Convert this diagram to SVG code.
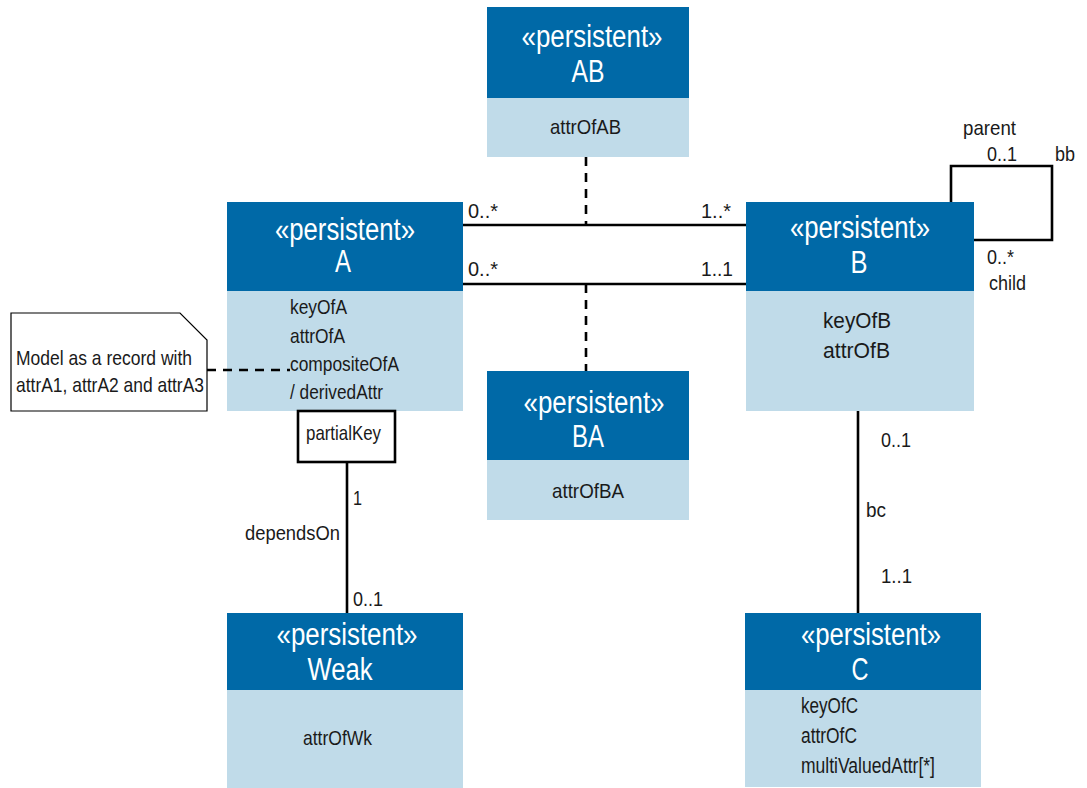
<svg xmlns="http://www.w3.org/2000/svg" width="1087" height="788" viewBox="0 0 1087 788">
<style>
text{font-family:"Liberation Sans",Arial,sans-serif;}
.hd{fill:#0069a7;}
.bd{fill:#c0dbe9;}
.st{fill:#ffffff;font-size:31px;text-anchor:middle;}
.at{fill:#1a1a1a;font-size:21px;}
.atB{fill:#1a1a1a;font-size:22px;}
.lb{fill:#1a1a1a;font-size:21px;}
.ln{fill:none;stroke:#000;stroke-width:2.6;}
.ds{fill:none;stroke:#000;stroke-width:2.6;stroke-dasharray:9,7;}
</style>
<rect width="1087" height="788" fill="#ffffff"/>
<g id="AB">
<rect class="hd" x="487" y="7" width="202" height="91"/>
<rect class="bd" x="487" y="98" width="202" height="59"/>
<text class="st" x="592" y="47" textLength="141" lengthAdjust="spacingAndGlyphs">«persistent»</text>
<text class="st" x="588" y="82" textLength="33" lengthAdjust="spacingAndGlyphs">AB</text>
<text class="at" x="550" y="134" textLength="71" lengthAdjust="spacingAndGlyphs">attrOfAB</text>
</g>
<g id="A">
<rect class="hd" x="227" y="202" width="236" height="89"/>
<rect class="bd" x="227" y="291" width="236" height="120"/>
<text class="st" x="345" y="240" textLength="140" lengthAdjust="spacingAndGlyphs">«persistent»</text>
<text class="st" x="343" y="272" textLength="16" lengthAdjust="spacingAndGlyphs">A</text>
<text class="at" x="290" y="314" textLength="57" lengthAdjust="spacingAndGlyphs">keyOfA</text>
<text class="at" x="290" y="343" textLength="55" lengthAdjust="spacingAndGlyphs">attrOfA</text>
<text class="at" x="290" y="371" textLength="109" lengthAdjust="spacingAndGlyphs">compositeOfA</text>
<text class="at" x="290" y="399" textLength="93" lengthAdjust="spacingAndGlyphs">/ derivedAttr</text>
</g>
<g id="partialKey">
<rect x="298" y="411" width="97" height="51" fill="#ffffff" stroke="#000" stroke-width="2.6"/>
<text class="at" x="306" y="440" textLength="75" lengthAdjust="spacingAndGlyphs">partialKey</text>
</g>
<g id="B">
<rect class="hd" x="746" y="202" width="228" height="89"/>
<rect class="bd" x="746" y="291" width="228" height="120"/>
<text class="st" x="860" y="238" textLength="140" lengthAdjust="spacingAndGlyphs">«persistent»</text>
<text class="st" x="859" y="273" textLength="17" lengthAdjust="spacingAndGlyphs">B</text>
<text class="atB" x="823" y="328" textLength="68" lengthAdjust="spacingAndGlyphs">keyOfB</text>
<text class="atB" x="823" y="358" textLength="67" lengthAdjust="spacingAndGlyphs">attrOfB</text>
</g>
<g id="BA">
<rect class="hd" x="487" y="371" width="202" height="89"/>
<rect class="bd" x="487" y="460" width="202" height="60"/>
<text class="st" x="594" y="413" textLength="141" lengthAdjust="spacingAndGlyphs">«persistent»</text>
<text class="st" x="588" y="447" textLength="32" lengthAdjust="spacingAndGlyphs">BA</text>
<text class="at" x="552" y="498" textLength="72" lengthAdjust="spacingAndGlyphs">attrOfBA</text>
</g>
<g id="Weak">
<rect class="hd" x="227" y="613" width="236" height="77"/>
<rect class="bd" x="227" y="690" width="236" height="98"/>
<text class="st" x="347" y="645" textLength="141" lengthAdjust="spacingAndGlyphs">«persistent»</text>
<text class="st" x="340" y="680" textLength="65" lengthAdjust="spacingAndGlyphs">Weak</text>
<text class="at" x="303" y="745" textLength="69" lengthAdjust="spacingAndGlyphs">attrOfWk</text>
</g>
<g id="C">
<rect class="hd" x="745" y="613" width="236" height="77"/>
<rect class="bd" x="745" y="690" width="236" height="97"/>
<text class="st" x="871" y="645" textLength="140" lengthAdjust="spacingAndGlyphs">«persistent»</text>
<text class="st" x="860" y="680" textLength="17" lengthAdjust="spacingAndGlyphs">C</text>
<text class="atB" x="801" y="713" textLength="57" lengthAdjust="spacingAndGlyphs">keyOfC</text>
<text class="atB" x="801" y="743" textLength="56" lengthAdjust="spacingAndGlyphs">attrOfC</text>
<text class="atB" x="801" y="773" textLength="134" lengthAdjust="spacingAndGlyphs">multiValuedAttr[*]</text>
</g>
<g id="note">
<path d="M11 313 H180 L207 340 V411 H11 Z" fill="#ffffff" stroke="#000" stroke-width="1.2"/>
<text class="lb" x="16" y="365" textLength="176" lengthAdjust="spacingAndGlyphs">Model as a record with</text>
<text class="lb" x="16" y="392" textLength="188" lengthAdjust="spacingAndGlyphs">attrA1, attrA2 and attrA3</text>
</g>
<g id="connectors">
<line class="ln" x1="463" y1="225" x2="746" y2="225"/>
<line class="ln" x1="463" y1="284" x2="746" y2="284"/>
<line class="ds" x1="586" y1="157" x2="586" y2="225"/>
<line class="ds" x1="586" y1="284" x2="586" y2="371"/>
<path class="ln" d="M951 202 V166 H1052 V240 H974"/>
<line class="ln" x1="858" y1="411" x2="858" y2="613"/>
<line class="ln" x1="347" y1="462" x2="347" y2="613"/>
<line class="ds" x1="207" y1="370" x2="290" y2="370"/>
<text class="lb" x="468" y="218" textLength="30" lengthAdjust="spacingAndGlyphs">0..*</text>
<text class="lb" x="701" y="218" textLength="30" lengthAdjust="spacingAndGlyphs">1..*</text>
<text class="lb" x="468" y="276" textLength="30" lengthAdjust="spacingAndGlyphs">0..*</text>
<text class="lb" x="701" y="276" textLength="32" lengthAdjust="spacingAndGlyphs">1..1</text>
<text class="lb" x="963" y="135" textLength="53" lengthAdjust="spacingAndGlyphs">parent</text>
<text class="lb" x="987" y="161" textLength="30" lengthAdjust="spacingAndGlyphs">0..1</text>
<text class="lb" x="1055" y="161" textLength="20" lengthAdjust="spacingAndGlyphs">bb</text>
<text class="lb" x="987" y="264" textLength="27" lengthAdjust="spacingAndGlyphs">0..*</text>
<text class="lb" x="989" y="290" textLength="37" lengthAdjust="spacingAndGlyphs">child</text>
<text class="lb" x="881" y="447" textLength="30" lengthAdjust="spacingAndGlyphs">0..1</text>
<text class="lb" x="866" y="517" textLength="20" lengthAdjust="spacingAndGlyphs">bc</text>
<text class="lb" x="881" y="583" textLength="31" lengthAdjust="spacingAndGlyphs">1..1</text>
<text class="lb" x="353" y="505" textLength="9" lengthAdjust="spacingAndGlyphs">1</text>
<text class="lb" x="245" y="540" textLength="95" lengthAdjust="spacingAndGlyphs">dependsOn</text>
<text class="lb" x="353" y="606" textLength="30" lengthAdjust="spacingAndGlyphs">0..1</text>
</g>
</svg>
